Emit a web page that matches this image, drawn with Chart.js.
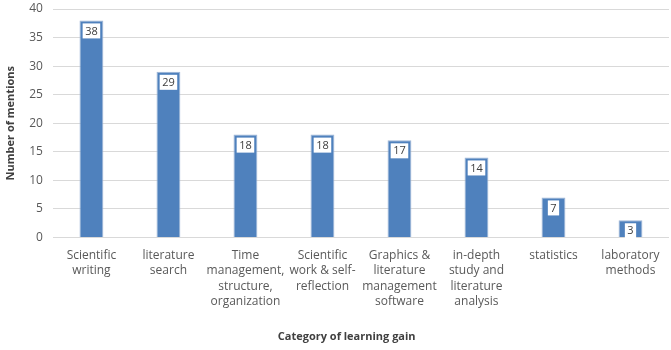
<!DOCTYPE html>
<html>
<head>
<meta charset="utf-8">
<script src="https://cdn.jsdelivr.net/npm/chart.js@4"></script>
<style>
  body { margin: 0; background: #fff; }
  #wrap { width: 671px; height: 350px; position: relative; }
</style>
</head>
<body>
<div id="wrap"><canvas id="chart"></canvas></div>
<script>
// Categories and counts
const categories = [
    ['Scientific', 'writing'],
    ['literature', 'search'],
    ['Time', 'management,', 'structure,', 'organization'],
    ['Scientific', 'work & self-', 'reflection'],
    ['Graphics &', 'literature', 'management', 'software'],
    ['in-depth', 'study and', 'literature', 'analysis'],
    ['statistics'],
    ['laboratory', 'methods']
];
const mentions = [38, 29, 18, 18, 17, 14, 7, 3];
const yTicks = [0, 5, 10, 15, 20, 25, 30, 35, 40];

const fontFamily = "'Open Sans', 'Liberation Sans', sans-serif";

// Small plugin to draw the white value boxes near the top of each bar
const valueBoxes = {
    id: 'valueBoxes',
    afterDatasetsDraw(chart) {
        const ctx = chart.ctx;
        const meta = chart.getDatasetMeta(0);
        ctx.save();
        ctx.font = '11px ' + fontFamily;
        ctx.textAlign = 'center';
        ctx.textBaseline = 'middle';
        meta.data.forEach((bar, i) => {
            const text = String(mentions[i]);
            const w = ctx.measureText(text).width + 5;
            const h = 15;
            const x = bar.x - w / 2;
            const y = bar.y + 3;
            ctx.fillStyle = '#ffffff';
            ctx.fillRect(x, y, w, h);
            ctx.fillStyle = '#404040';
            ctx.fillText(text, bar.x, y + h / 2 + 0.5);
        });
        ctx.restore();
    }
};

const ctx = document.getElementById('chart').getContext('2d');
new Chart(ctx, {
    type: 'bar',
    data: {
        labels: categories,
        datasets: [{
            data: mentions,
            backgroundColor: '#4f81bd',
            borderColor: '#9fb6d6',
            borderWidth: 1,
            categoryPercentage: 1,
            barPercentage: 0.31
        }]
    },
    options: {
        responsive: true,
        maintainAspectRatio: false,
        animation: false,
        layout: { padding: { top: 9, right: 2, left: 0, bottom: 3 } },
        plugins: {
            legend: { display: false },
            tooltip: { enabled: false }
        },
        scales: {
            x: {
                grid: { display: false },
                border: { display: false },
                ticks: {
                    color: '#595959',
                    font: { family: fontFamily, size: 12, lineHeight: 1.3 },
                    maxRotation: 0,
                    autoSkip: false,
                    padding: 2
                },
                title: {
                    display: true,
                    // trailing spaces nudge the centred title left like the original
                    text: 'Category of learning gain' + '\u00a0'.repeat(10),
                    color: '#404040',
                    font: { family: fontFamily, size: 11, weight: 'bold' },
                    padding: { top: 18 }
                }
            },
            y: {
                min: 0,
                max: 40,
                afterBuildTicks(axis) {
                    axis.ticks = yTicks.map(v => ({ value: v }));
                },
                afterFit(axis) {
                    axis.paddingTop = 0;
                },
                grid: { color: '#d9d9d9', drawTicks: false },
                border: { display: false },
                ticks: {
                    color: '#595959',
                    font: { family: fontFamily, size: 12 },
                    padding: 10
                },
                title: {
                    display: true,
                    text: 'Number of mentions',
                    color: '#404040',
                    font: { family: fontFamily, size: 11, weight: 'bold' },
                    padding: { bottom: 2 }
                }
            }
        }
    },
    plugins: [valueBoxes]
});
</script>
</body>
</html>
